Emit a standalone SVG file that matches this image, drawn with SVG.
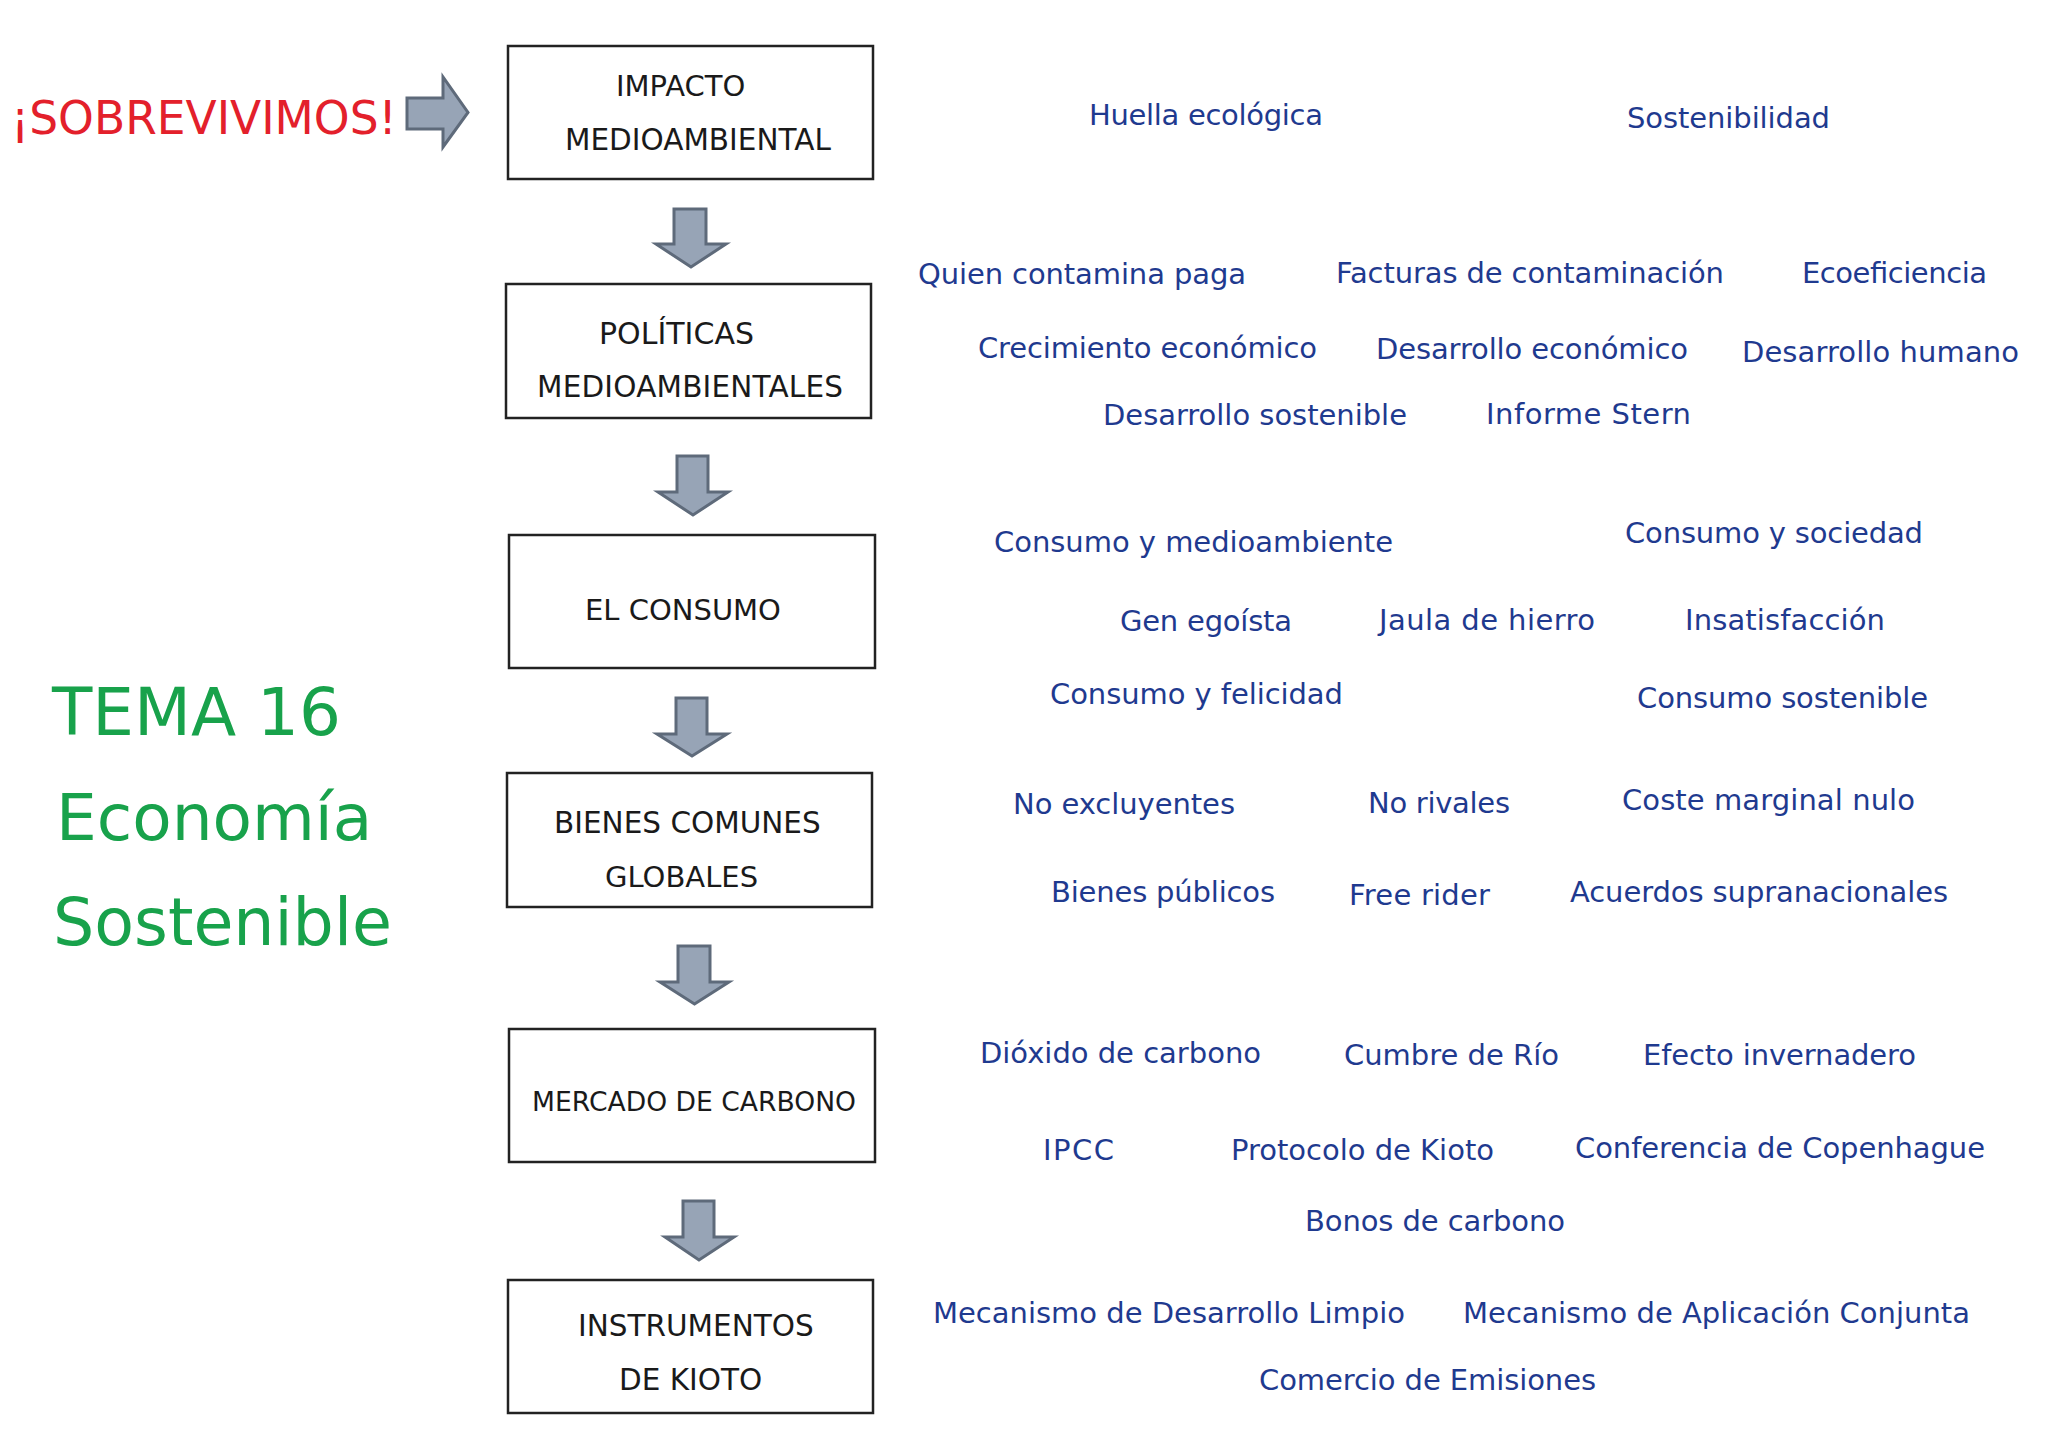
<svg xmlns="http://www.w3.org/2000/svg" width="2048" height="1448" viewBox="0 0 2048 1448">
<style>
.box{fill:#ffffff;stroke:#222222;stroke-width:2.5}
.bt{font-family:"DejaVu Sans","Liberation Sans",sans-serif;font-size:29.5px;fill:#1a1a1a}
.term{font-family:"DejaVu Sans","Liberation Sans",sans-serif;font-size:29px;fill:#1f3a8f}
.arr{fill:#97a4b6;stroke:#5e6a7a;stroke-width:3;stroke-linejoin:miter}
.green{font-family:"DejaVu Sans","Liberation Sans",sans-serif;font-size:64.5px;fill:#18a24b}
</style>
<rect x="0" y="0" width="2048" height="1448" fill="#ffffff"/>

<g id="title">
<text x="11" y="134" style="font-family:'DejaVu Sans','Liberation Sans',sans-serif;font-size:45.5px" fill="#e3202b">¡SOBREVIVIMOS!</text>
<text class="green" x="52" y="735" style="font-size:66px">TEMA 16</text>
<text class="green" x="56" y="840">Economía</text>
<text class="green" x="53" y="945" style="font-size:65px">Sostenible</text>
</g>

<g id="connectors">
<polygon class="arr" points="407,98 443,98 443,77 468,112.5 443,147 443,129 407,129"/>
<polygon class="arr" points="674,209 706,209 706,244 726,244 691,267 656,244 674,244"/>
<polygon class="arr" points="677,456 708,456 708,492 728,492 693,515 658,492 677,492"/>
<polygon class="arr" points="676,698 707,698 707,734 727,734 692,756 657,734 676,734"/>
<polygon class="arr" points="678,946 710,946 710,982 729,982 694.5,1004 660,982 678,982"/>
<polygon class="arr" points="683,1201 714,1201 714,1237 734,1237 699,1260 665,1237 683,1237"/>
</g>

<g id="node-impacto">
<rect class="box" x="508" y="46" width="365" height="133"/>
<text class="bt" x="616" y="96" style="font-size:29px">IMPACTO</text>
<text class="bt" x="565" y="150">MEDIOAMBIENTAL</text>
</g>
<g id="node-politicas">
<rect class="box" x="506" y="284" width="365" height="134"/>
<text class="bt" x="599" y="344" style="font-size:30px">POLÍTICAS</text>
<text class="bt" x="537" y="397" textLength="306">MEDIOAMBIENTALES</text>
</g>
<g id="node-consumo">
<rect class="box" x="509" y="535" width="366" height="133"/>
<text class="bt" x="585" y="620" style="font-size:29px">EL CONSUMO</text>
</g>
<g id="node-bienes">
<rect class="box" x="507" y="773" width="365" height="134"/>
<text class="bt" x="554" y="833">BIENES COMUNES</text>
<text class="bt" x="605" y="887" style="font-size:29px">GLOBALES</text>
</g>
<g id="node-mercado">
<rect class="box" x="509" y="1029" width="366" height="133"/>
<text class="bt" x="532" y="1111" style="font-size:26.6px">MERCADO DE CARBONO</text>
</g>
<g id="node-instrumentos">
<rect class="box" x="508" y="1280" width="365" height="133"/>
<text class="bt" x="578" y="1336">INSTRUMENTOS</text>
<text class="bt" x="619" y="1390">DE KIOTO</text>
</g>

<g id="terms-impacto">
<text class="term" x="1089" y="125" textLength="234">Huella ecológica</text>
<text class="term" x="1627" y="128" textLength="203">Sostenibilidad</text>
</g>
<g id="terms-politicas">
<text class="term" x="918" y="284" textLength="328">Quien contamina paga</text>
<text class="term" x="1336" y="283" textLength="388">Facturas de contaminación</text>
<text class="term" x="1802" y="283" textLength="185">Ecoeficiencia</text>
<text class="term" x="978" y="358" textLength="339">Crecimiento económico</text>
<text class="term" x="1376" y="359" textLength="312">Desarrollo económico</text>
<text class="term" x="1742" y="362" textLength="277">Desarrollo humano</text>
<text class="term" x="1103" y="425" textLength="304">Desarrollo sostenible</text>
<text class="term" x="1486" y="424" textLength="205">Informe Stern</text>
</g>
<g id="terms-consumo">
<text class="term" x="994" y="552" textLength="399">Consumo y medioambiente</text>
<text class="term" x="1625" y="543" textLength="298">Consumo y sociedad</text>
<text class="term" x="1120" y="631" textLength="172">Gen egoísta</text>
<text class="term" x="1379" y="630" textLength="216">Jaula de hierro</text>
<text class="term" x="1685" y="630" textLength="200">Insatisfacción</text>
<text class="term" x="1050" y="704" textLength="293">Consumo y felicidad</text>
<text class="term" x="1637" y="708" textLength="291">Consumo sostenible</text>
</g>
<g id="terms-bienes">
<text class="term" x="1013" y="814" textLength="222">No excluyentes</text>
<text class="term" x="1368" y="813" textLength="142">No rivales</text>
<text class="term" x="1622" y="810" textLength="293">Coste marginal nulo</text>
<text class="term" x="1051" y="902" textLength="224">Bienes públicos</text>
<text class="term" x="1349" y="905" textLength="141">Free rider</text>
<text class="term" x="1570" y="902" textLength="378">Acuerdos supranacionales</text>
</g>
<g id="terms-mercado">
<text class="term" x="980" y="1063" textLength="281">Dióxido de carbono</text>
<text class="term" x="1344" y="1065" textLength="215">Cumbre de Río</text>
<text class="term" x="1643" y="1065" textLength="273">Efecto invernadero</text>
<text class="term" x="1043" y="1160" textLength="71">IPCC</text>
<text class="term" x="1231" y="1160" textLength="263">Protocolo de Kioto</text>
<text class="term" x="1575" y="1158" textLength="410">Conferencia de Copenhague</text>
<text class="term" x="1305" y="1231" textLength="260">Bonos de carbono</text>
</g>
<g id="terms-instrumentos">
<text class="term" x="933" y="1323" textLength="472">Mecanismo de Desarrollo Limpio</text>
<text class="term" x="1463" y="1323" textLength="507">Mecanismo de Aplicación Conjunta</text>
<text class="term" x="1259" y="1390" textLength="337">Comercio de Emisiones</text>
</g>
</svg>
